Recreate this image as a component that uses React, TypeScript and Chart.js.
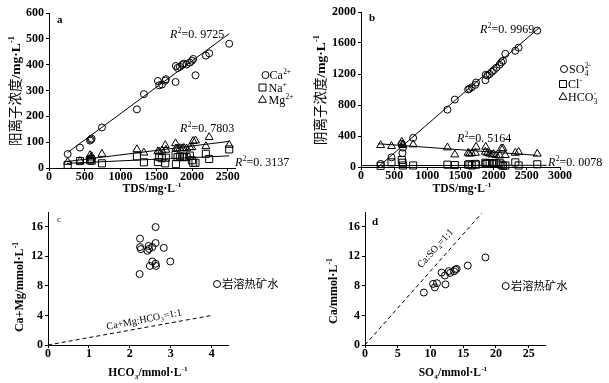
import React, { useEffect, useRef } from 'react';
import { Chart, registerables } from 'chart.js';
Chart.register(...registerables);

const W = 609;
const H = 383;
const SERIF = '"Liberation Serif", "Times New Roman", serif';
const CJK = '"Noto Sans CJK SC", "Noto Sans CJK JP", sans-serif';

// ---------- Panel a: cations vs TDS ----------
const tdsA = [261, 433, 573, 585, 596, 740, 1229, 1327, 1522, 1541, 1578, 1625, 1634, 1769, 1774, 1797, 1830, 1862, 1886, 1923, 1969, 1997, 2016, 2048, 2193, 2239, 2519];
const caA = [54, 79, 106, 110, 114, 157, 227, 286, 337, 320, 323, 338, 344, 333, 395, 387, 392, 399, 404, 401, 408, 415, 422, 359, 435, 444, 481];
const naA = [12, 27, 30, 35, 28, 18, 45, 22, 23, 42, 38, 18, 40, 50, 15, 42, 45, 42, 44, 42, 48, 30, 20, 20, 55, 35, 72];
const mgA = [23, 27, 49, 40, 45, 54, 72, 59, 64, 63, 67, 88, 70, 95, 75, 75, 76, 76, 77, 75, 80, 80, 104, 106, 84, 119, 89];
const caFitA = [[261, 60], [2519, 520]];
const mgFitA = [[250, 25], [2519, 103]];
const naFitA = [[250, 18], [2519, 47]];
const r2A = ['0. 9725', '0. 7803', '0. 3137'];
const xTicksA = [0, 500, 1000, 1500, 2000, 2500];
const yTicksA = [0, 100, 200, 300, 400, 500, 600];

// ---------- Panel b: anions vs TDS ----------
const tdsB = [296, 460, 615, 625, 632, 786, 1303, 1414, 1615, 1635, 1670, 1724, 1735, 1875, 1880, 1905, 1940, 1975, 2000, 2040, 2090, 2115, 2140, 2176, 2326, 2376, 2657];
const so4B = [40, 125, 300, 180, 250, 375, 740, 870, 1000, 1010, 1030, 1060, 1090, 1120, 1190, 1180, 1200, 1230, 1250, 1280, 1320, 1350, 1370, 1460, 1500, 1540, 1760];
const clB = [15, 60, 90, 55, 20, 20, 30, 25, 30, 35, 20, 40, 30, 55, 40, 45, 50, 40, 50, 45, 55, 30, 15, 20, 60, 20, 35];
const hco3B = [281, 268, 324, 290, 281, 290, 251, 160, 181, 170, 175, 181, 259, 194, 259, 180, 170, 160, 165, 150, 150, 238, 238, 152, 181, 194, 170];
const so4FitB = [[270, 10], [2690, 1800]];
const hco3FitB = [[260, 300], [2660, 150]];
const clFitB = [[20, 18], [2800, 22]];
const r2B = ['0. 9969', '0. 5164', '0. 0078'];
const xTicksB = [0, 500, 1000, 1500, 2000, 2500, 3000];
const yTicksB = [0, 400, 800, 1200, 1600, 2000];

// ---------- Panel c: Ca+Mg vs HCO3 ----------
const hco3C = [2.63, 2.25, 2.63, 2.25, 2.27, 2.46, 2.43, 2.55, 2.47, 2.83, 2.99, 2.55, 2.49, 2.63, 2.64, 2.24];
const caMgC = [15.96, 14.4, 13.8, 13.25, 12.97, 13.4, 12.75, 13.25, 13.0, 13.15, 11.3, 11.3, 10.7, 11.0, 10.7, 9.6];
const lineC = [[0, 0], [4, 4]];
const xTicksC = [0, 1, 2, 3, 4];
const yTicksCD = [0, 4, 8, 12, 16];

// ---------- Panel d: Ca vs SO4 ----------
const so4D = [8.99, 10.4, 10.67, 11.0, 11.7, 12.2, 12.3, 12.8, 13.0, 13.6, 13.8, 14.0, 15.7, 18.4];
const caD = [7.1, 8.27, 7.8, 8.36, 9.8, 9.4, 8.2, 10.0, 9.75, 9.97, 10.2, 10.3, 10.75, 11.85];
const lineD = [[0, 0], [17.8, 17.8]];
const xTicksD = [0, 5, 10, 15, 20, 25];

// ---------- rich text helper ----------
type Seg = { t?: string; sub?: string; sup?: string; it?: boolean; cjk?: boolean };
type Txt = { segs: Seg[]; x: number; y: number; size: number; bold?: boolean; align?: 'left' | 'center'; rot?: number };
type Mark = { kind: 'circle' | 'rect' | 'triangle'; x: number; y: number };

function fontOf(seg: Seg, size: number, bold?: boolean) {
  return `${seg.it ? 'italic ' : ''}${bold && !seg.cjk ? 'bold ' : ''}${size}px ${seg.cjk ? CJK : SERIF}`;
}

function drawTxt(ctx: CanvasRenderingContext2D, tx: Txt) {
  const small = tx.size * 0.62;
  const widths = tx.segs.map((seg) => {
    if (seg.t !== undefined) {
      ctx.font = fontOf(seg, tx.size, tx.bold);
      return ctx.measureText(seg.t).width;
    }
    ctx.font = fontOf(seg, small, tx.bold);
    const a = seg.sub ? ctx.measureText(seg.sub).width : 0;
    const b = seg.sup ? ctx.measureText(seg.sup).width : 0;
    return Math.max(a, b) + 0.5;
  });
  const total = widths.reduce((s, v) => s + v, 0);
  ctx.save();
  ctx.translate(tx.x, tx.y);
  if (tx.rot) ctx.rotate(tx.rot);
  ctx.fillStyle = '#000';
  ctx.textBaseline = 'alphabetic';
  ctx.textAlign = 'left';
  let cx = tx.align === 'center' ? -total / 2 : 0;
  const base = tx.size * 0.35;
  tx.segs.forEach((seg, i) => {
    if (seg.t !== undefined) {
      ctx.font = fontOf(seg, tx.size, tx.bold);
      ctx.fillText(seg.t, cx, base);
    } else {
      ctx.font = fontOf(seg, small, tx.bold);
      if (seg.sub) ctx.fillText(seg.sub, cx + 0.3, base + tx.size * 0.22);
      if (seg.sup) ctx.fillText(seg.sup, cx + 0.3, base - tx.size * 0.4);
    }
    cx += widths[i];
  });
  ctx.restore();
}

function drawMark(ctx: CanvasRenderingContext2D, m: Mark) {
  ctx.save();
  ctx.strokeStyle = '#000';
  ctx.lineWidth = 1;
  ctx.beginPath();
  if (m.kind === 'circle') {
    ctx.arc(m.x, m.y, 3.5, 0, Math.PI * 2);
  } else if (m.kind === 'rect') {
    ctx.rect(m.x - 3.5, m.y - 3.5, 7, 7);
  } else {
    const r = 4.6;
    for (let k = 0; k < 3; k++) {
      const a = (k * 2 * Math.PI) / 3;
      const px = m.x + Math.sin(a) * r;
      const py = m.y - Math.cos(a) * r;
      if (k === 0) ctx.moveTo(px, py);
      else ctx.lineTo(px, py);
    }
    ctx.closePath();
  }
  ctx.stroke();
  ctx.restore();
}

const pts = (xs: number[], ys: number[]) => xs.map((x, i) => ({ x, y: ys[i] }));
const seg2 = (a: number[][]) => a.map(([x, y]) => ({ x, y }));

const circleDs = (data: any[]) => ({ data, pointStyle: 'circle', pointRadius: 3.5, borderColor: '#000', backgroundColor: 'rgba(0,0,0,0)', borderWidth: 1, showLine: false, clip: false });
const rectDs = (data: any[]) => ({ data, pointStyle: 'rect', pointRadius: 5, borderColor: '#000', backgroundColor: 'rgba(0,0,0,0)', borderWidth: 1, showLine: false, clip: false });
const triDs = (data: any[]) => ({ data, pointStyle: 'triangle', pointRadius: 4.6, borderColor: '#000', backgroundColor: 'rgba(0,0,0,0)', borderWidth: 1, showLine: false, clip: false });
const lineDs = (data: any[], dash: number[] = []) => ({ data, showLine: true, pointRadius: 0, borderColor: '#000', borderWidth: 1, borderDash: dash, fill: false, clip: false });

function axis(min: number, max: number, ticks: number[], fixed: { width?: number; height?: number }) {
  const horiz = !!fixed.height;
  return {
    type: 'linear',
    min,
    max,
    border: { display: true, color: '#000', width: 1 },
    grid: { display: true, drawOnChartArea: false, drawTicks: true, tickLength: 3, color: '#000', tickColor: '#000' },
    ticks: {
      color: '#000',
      font: { family: SERIF, size: 12, weight: 'bold' },
      padding: horiz ? -1 : 2,
      autoSkip: false,
      maxRotation: 0,
      callback: (v: any) => String(v),
    },
    afterBuildTicks: (s: any) => {
      s.ticks = ticks.map((v) => ({ value: v }));
    },
    afterFit: (s: any) => {
      if (fixed.width) s.width = fixed.width;
      if (fixed.height) s.height = fixed.height;
    },
  };
}

type Panel = {
  datasets: any[];
  padding: { left: number; right: number; top: number; bottom: number };
  x: any;
  y: any;
  texts: Txt[];
  marks: Mark[];
};

const mgL = (cjk: string): Seg[] => [{ t: cjk, cjk: true }, { t: '/mg·L' }, { sup: '-1' }];
const r2 = (v: string): Seg[] => [{ t: 'R', it: true }, { sup: '2' }, { t: '=' + v }];

const panels: Panel[] = [
  {
    datasets: [
      lineDs(seg2(caFitA)),
      lineDs(seg2(mgFitA)),
      lineDs(seg2(naFitA)),
      circleDs(pts(tdsA, caA)),
      rectDs(pts(tdsA, naA)),
      triDs(pts(tdsA, mgA)),
    ],
    padding: { left: 9, right: 374, top: 13, bottom: 185 },
    x: axis(0, 2600, xTicksA, { height: 30 }),
    y: axis(0, 600, yTicksA, { width: 40 }),
    texts: [
      { segs: mgL('阳离子浓度'), x: 15, y: 91, size: 13.5, bold: true, align: 'center', rot: -Math.PI / 2 },
      { segs: [{ t: 'TDS/mg·L' }, { sup: '-1' }], x: 152, y: 188, size: 11.5, bold: true, align: 'center' },
      { segs: [{ t: 'a' }], x: 57, y: 19, size: 11, bold: true },
      { segs: r2(r2A[0]), x: 170, y: 34, size: 12 },
      { segs: r2(r2A[1]), x: 180, y: 128, size: 12 },
      { segs: r2(r2A[2]), x: 235, y: 162, size: 12 },
      { segs: [{ t: 'Ca' }, { sup: '2+' }], x: 269.5, y: 75, size: 12 },
      { segs: [{ t: 'Na' }, { sup: '+' }], x: 268.5, y: 87.5, size: 12 },
      { segs: [{ t: 'Mg' }, { sup: '2+' }], x: 268.5, y: 100, size: 12 },
    ],
    marks: [
      { kind: 'circle', x: 265.5, y: 75 },
      { kind: 'rect', x: 262.5, y: 87.5 },
      { kind: 'triangle', x: 262.5, y: 100 },
    ],
  },
  {
    datasets: [
      lineDs(seg2(so4FitB)),
      lineDs(seg2(hco3FitB)),
      lineDs(seg2(clFitB)),
      circleDs(pts(tdsB, so4B)),
      rectDs(pts(tdsB, clB)),
      triDs(pts(tdsB, hco3B)),
    ],
    padding: { left: 321, right: 49, top: 12, bottom: 186 },
    x: axis(0, 3000, xTicksB, { height: 30 }),
    y: axis(0, 2000, yTicksB, { width: 40 }),
    texts: [
      { segs: mgL('阴离子浓度'), x: 320, y: 90, size: 13.5, bold: true, align: 'center', rot: -Math.PI / 2 },
      { segs: [{ t: 'TDS/mg·L' }, { sup: '-1' }], x: 462, y: 188, size: 11.5, bold: true, align: 'center' },
      { segs: [{ t: 'b' }], x: 369, y: 17, size: 11, bold: true },
      { segs: r2(r2B[0]), x: 480, y: 29, size: 12 },
      { segs: r2(r2B[1]), x: 457, y: 138, size: 12 },
      { segs: r2(r2B[2]), x: 548, y: 162, size: 12 },
      { segs: [{ t: 'SO' }, { sub: '4', sup: '2-' }], x: 569, y: 69, size: 12 },
      { segs: [{ t: 'Cl' }, { sup: '-' }], x: 568, y: 84, size: 12 },
      { segs: [{ t: 'HCO' }, { sub: '3', sup: '-' }], x: 568, y: 97, size: 12 },
    ],
    marks: [
      { kind: 'circle', x: 564, y: 69 },
      { kind: 'rect', x: 563, y: 84 },
      { kind: 'triangle', x: 563, y: 97 },
    ],
  },
  {
    datasets: [lineDs(seg2(lineC), [4, 3]), circleDs(pts(hco3C, caMgC))],
    padding: { left: 8, right: 381, top: 212, bottom: 8 },
    x: axis(0, 4.4, xTicksC, { height: 30 }),
    y: axis(0, 18, yTicksCD, { width: 40 }),
    texts: [
      { segs: [{ t: 'Ca+Mg/mmol·L' }, { sup: '-1' }], x: 19, y: 287, size: 12, bold: true, align: 'center', rot: -Math.PI / 2 },
      { segs: [{ t: 'HCO' }, { sub: '3' }, { t: '/mmol·L' }, { sup: '-1' }], x: 148, y: 372, size: 11.5, bold: true, align: 'center' },
      { segs: [{ t: 'c' }], x: 57, y: 219, size: 9 },
      { segs: [{ t: 'Ca+Mg:HCO' }, { sub: '3' }, { t: '=1:1' }], x: 144, y: 319, size: 10, align: 'center', rot: -0.19 },
      { segs: [{ t: '岩溶热矿水', cjk: true }], x: 222, y: 284, size: 11.3 },
    ],
    marks: [{ kind: 'circle', x: 217, y: 284 }],
  },
  {
    datasets: [lineDs(seg2(lineD), [4, 3]), circleDs(pts(so4D, caD))],
    padding: { left: 325, right: 64, top: 212, bottom: 8 },
    x: axis(0, 27.5, xTicksD, { height: 30 }),
    y: axis(0, 18, yTicksCD, { width: 40 }),
    texts: [
      { segs: [{ t: 'Ca/mmol·L' }, { sup: '-1' }], x: 333, y: 291, size: 12, bold: true, align: 'center', rot: -Math.PI / 2 },
      { segs: [{ t: 'SO' }, { sub: '4' }, { t: '/mmol·L' }, { sup: '-1' }], x: 453, y: 372, size: 11.5, bold: true, align: 'center' },
      { segs: [{ t: 'd' }], x: 372, y: 221, size: 11, bold: true },
      { segs: [{ t: 'Ca:SO' }, { sub: '4' }, { t: '=1:1' }], x: 435, y: 248, size: 10, align: 'center', rot: -0.84 },
      { segs: [{ t: '岩溶热矿水', cjk: true }], x: 511, y: 286, size: 11.3 },
    ],
    marks: [{ kind: 'circle', x: 505.7, y: 286 }],
  },
];

function PanelCanvas({ panel }: { panel: Panel }) {
  const ref = useRef<HTMLCanvasElement | null>(null);
  useEffect(() => {
    if (!ref.current) return;
    const textPlugin = {
      id: 'txt',
      afterDraw(chart: any) {
        const ctx = chart.ctx as CanvasRenderingContext2D;
        panel.marks.forEach((m) => drawMark(ctx, m));
        panel.texts.forEach((t) => drawTxt(ctx, t));
      },
    };
    const chart = new Chart(ref.current, {
      type: 'scatter',
      data: { datasets: panel.datasets },
      options: {
        animation: false,
        responsive: false,
        devicePixelRatio: 1,
        events: [],
        layout: { padding: panel.padding },
        plugins: { legend: { display: false }, tooltip: { enabled: false }, title: { display: false } },
        scales: { x: panel.x, y: panel.y },
      } as any,
      plugins: [textPlugin],
    } as any);
    return () => chart.destroy();
  }, [panel]);
  return <canvas ref={ref} width={W} height={H} style={{ position: 'absolute', left: 0, top: 0, width: W, height: H }} />;
}

export default function App() {
  return (
    <div style={{ position: 'fixed', left: 0, top: 0, width: W, height: H, background: '#fff', overflow: 'hidden' }}>
      {panels.map((p, i) => (
        <PanelCanvas key={i} panel={p} />
      ))}
    </div>
  );
}
